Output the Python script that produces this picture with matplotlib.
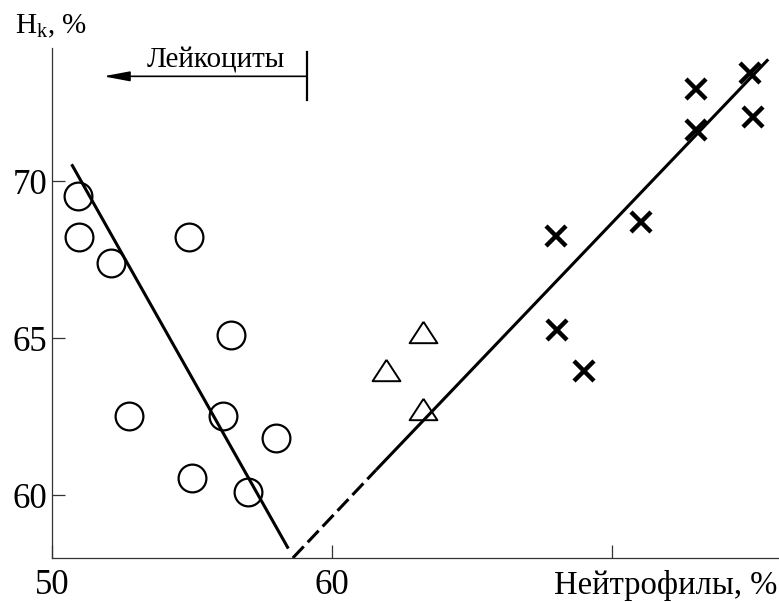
import matplotlib
matplotlib.use("Agg")
import matplotlib.pyplot as plt

plt.rcParams['font.family'] = ['Liberation Serif', 'DejaVu Serif']
plt.rcParams['mathtext.fontset'] = 'custom'
plt.rcParams['mathtext.rm'] = 'Liberation Serif'
plt.rcParams['mathtext.it'] = 'Liberation Serif'

# lymphocyte group (circles)
circ_x = [50.94, 50.96, 52.12, 54.90, 56.40, 52.75, 56.12, 58.01, 55.00, 57.01]
circ_y = [69.52, 68.21, 67.41, 68.21, 65.10, 62.53, 62.53, 61.81, 60.56, 60.11]

# middle group (triangles)
tri_x = [63.26, 61.93, 63.26]
tri_y = [65.20, 63.98, 62.76]

# neutrophil group (crosses)
cross_x = [68.00, 68.02, 69.01, 71.04, 73.00, 73.00, 74.93, 75.05]
cross_y = [68.26, 65.25, 63.95, 68.70, 72.93, 71.62, 73.43, 72.05]

# regression lines
left_x = [50.70, 58.44]
left_y = [70.54, 58.30]
dash_x = [58.60, 61.57]
dash_y = [58.00, 60.80]
right_x = [61.57, 75.58]
right_y = [60.80, 73.88]

xticks = [50, 60, 70]
xlabels = ['50', '60', '']
yticks = [60, 65, 70]

W, H = 779, 602
fig = plt.figure(figsize=(W / 100, H / 100), dpi=100)
ax = fig.add_axes([52 / W, (H - 558) / H, (W - 52) / W, (558 - 48) / H])
ax.set_xlim(50, 50 + 727 / 28)
ax.set_ylim(58, 58 + 510 / 31.4)

ax.plot(left_x, left_y, color='k', lw=2.2, solid_capstyle='butt')
ax.plot(dash_x, dash_y, color='k', lw=2.2, dashes=(5.2, 1.9))
ax.plot(right_x, right_y, color='k', lw=2.2, solid_capstyle='butt', clip_on=False)

ax.plot(circ_x, circ_y, 'o', ms=20, mfc='none', mec='k', mew=1.6)
tri_marker = [(0, 0.77), (-1, -0.77), (1, -0.77), (0, 0.77)]
ax.plot(tri_x, tri_y, linestyle='none', marker=tri_marker, ms=20,
        mfc='none', mec='k', mew=1.4)
ax.plot(cross_x, cross_y, 'x', ms=15, mec='k', mew=3.2, clip_on=False)

# leukocyte arrow
ax.annotate('', xy=(51.83, 73.34), xytext=(59.10, 73.34),
            arrowprops=dict(arrowstyle='-|>,head_length=1.6,head_width=0.3',
                            lw=1.2, color='k', shrinkA=0, shrinkB=0,
                            mutation_scale=10))
ax.plot([59.10, 59.10], [74.12, 72.58], color='k', lw=1.6, clip_on=False)

for s in ['top', 'right']:
    ax.spines[s].set_visible(False)
for s in ['left', 'bottom']:
    ax.spines[s].set_linewidth(0.9)
    ax.spines[s].set_color('#333333')

ax.set_xticks(xticks)
ax.set_xticklabels(xlabels)
ax.set_yticks(yticks)
ax.tick_params(direction='in', length=9.5, width=0.9, color='#333333',
               labelsize=25)
ax.tick_params(axis='x', pad=8)
ax.tick_params(axis='y', pad=3.5)

fig.text(15 / W, (H - 33) / H, r'H$_\mathregular{k}$, %', fontsize=21,
         ha='left', va='baseline')
fig.text(216 / W, (H - 67.3) / H, 'Лейкоциты', fontsize=21,
         ha='center', va='baseline')
fig.text(777 / W, (H - 594) / H, 'Нейтрофилы, %', fontsize=23.5,
         ha='right', va='baseline')

fig.savefig('out.png', dpi=100)
